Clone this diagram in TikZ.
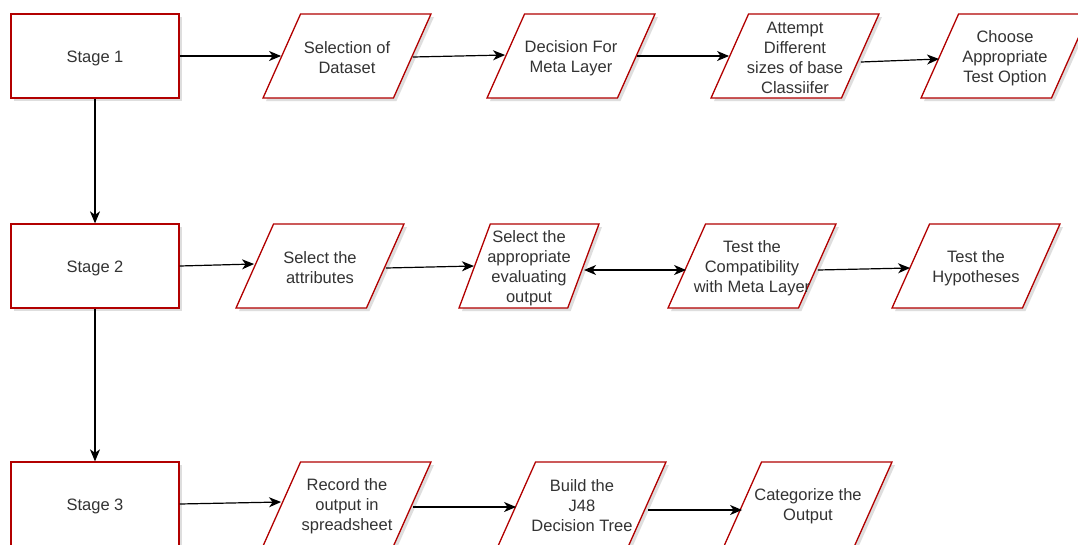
\documentclass[tikz,border=0pt]{standalone}
\usepackage{fontspec}
\setmainfont{Liberation Sans}
\usetikzlibrary{shapes.geometric,shadows,arrows.meta}
\definecolor{edgered}{HTML}{B20000}
\definecolor{ink}{HTML}{333333}
\newcommand{\lblfont}{\fontsize{16.5}{20}\selectfont}
\tikzset{
  shade box/.style={drop shadow={shadow xshift=3pt, shadow yshift=-3pt, fill=black!25}},
  stagebox/.style={draw=edgered, line width=1.3pt, fill=white, shade box,
    minimum width=168pt, minimum height=84pt, inner sep=2pt},
  io/.style={trapezium, trapezium left angle=68, trapezium right angle=112,
    trapezium stretches=true, draw=edgered, line width=1.3pt, fill=white,
    shade box, minimum width=#1, minimum height=84pt, inner sep=2pt},
  io/.default=168pt,
  txt/.style={text=ink, font=\lblfont, align=center, inner sep=0pt, yshift=-2pt},
  tip/.style={Stealth[length=12pt,width=10pt,inset=3.5pt]},
  flow/.style={-{Stealth[length=12pt,width=10pt,inset=3.5pt]}, line width=1.2pt, draw=black},
  flow2/.style={{Stealth[length=12pt,width=10pt,inset=3.5pt]}-{Stealth[length=12pt,width=10pt,inset=3.5pt]}, line width=1.2pt, draw=black},
}
\begin{document}
\begin{tikzpicture}[x=1pt,y=-1pt]
  \clip (0,0) rectangle (1078,544);
  \fill[white] (0,0) rectangle (1078,544);

  % stage column
  \node[stagebox, label={[txt]center:Stage 1}] (s1) at (95,56) {};
  \node[stagebox, label={[txt]center:Stage 2}] (s2) at (95,266) {};
  \node[stagebox, label={[txt]center:Stage 3}] (s3) at (95,504) {};

  % first row
  \node[io, label={[txt]center:Selection of\\Dataset}] (a1) at (347,56) {};
  \node[io, label={[txt]center:Decision For\\Meta Layer}] (a2) at (571,56) {};
  \node[io, label={[txt]center:Attempt\\Different\\sizes of base\\Classiifer}] (a3) at (795,56) {};
  \node[io, label={[txt]center:Choose\\Appropriate\\Test Option}] (a4) at (1005,56) {};

  % second row
  \node[io, label={[txt]center:Select the\\attributes}] (b1) at (320,266) {};
  \node[io=140pt, label={[txt]center:Select the\\appropriate\\evaluating\\output}] (b2) at (529,266) {};
  \node[io, label={[txt]center:Test the\\Compatibility\\with Meta Layer}] (b3) at (752,266) {};
  \node[io, label={[txt]center:Test the\\Hypotheses}] (b4) at (976,266) {};

  % third row
  \node[io, label={[txt]center:Record the\\output in\\spreadsheet}] (c1) at (347,504) {};
  \node[io, label={[txt]center:Build the\\J48\\Decision Tree}] (c2) at (582,504) {};
  \node[io, label={[txt]center:Categorize the\\Output}] (c3) at (808,504) {};

  % connectors
  \draw[flow] (s1) -- (s2);
  \draw[flow] (s2) -- (s3);

  \draw[flow] (s1) -- (a1);
  \draw[flow] ([yshift=-1pt]a1.east) -- ([yshift=1pt]a2.west);
  \draw[flow] (a2) -- (a3);
  \draw[flow] ([yshift=-6pt]a3.east) -- ([yshift=-3pt]a4.west);

  \draw[flow] (s2.east) -- ([yshift=2pt]b1.west);
  \draw[flow] ([yshift=-2pt]b1.east) -- (b2.west);
  \draw[flow2] ([yshift=-4pt]b2.east) -- ([yshift=-4pt]b3.west);
  \draw[flow] ([yshift=-4pt]b3.east) -- ([yshift=-2pt]b4.west);

  \draw[flow] (s3.east) -- ([yshift=2pt]c1.west);
  \draw[flow] ([yshift=-3pt]c1.east) -- ([yshift=-3pt]c2.west);
  \draw[flow] ([yshift=-6pt]c2.east) -- ([yshift=-6pt]c3.west);
\end{tikzpicture}
\end{document}
